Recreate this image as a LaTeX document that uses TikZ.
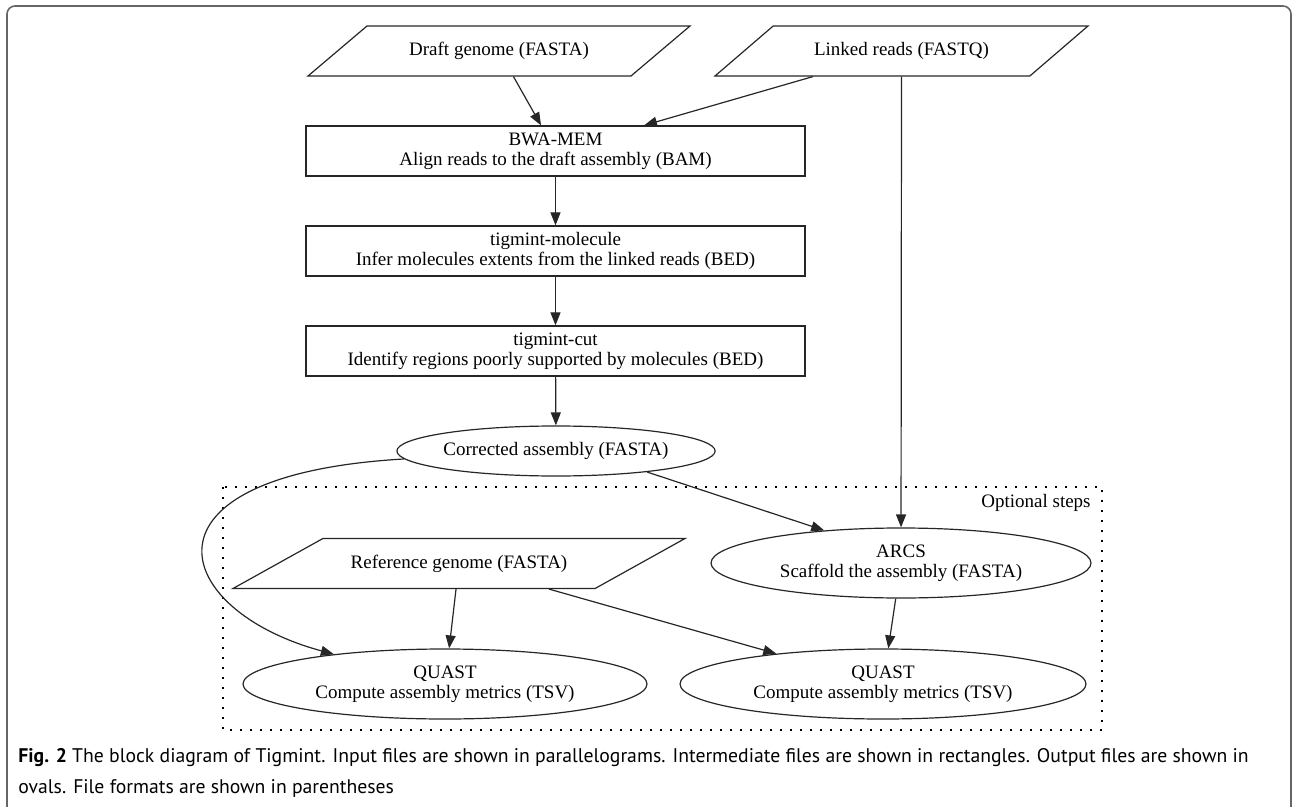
\documentclass[tikz,border=0pt]{standalone}
\usepackage{fontspec}
\setmainfont{Liberation Serif}
\newfontfamily\capfont{PT Sans}
\usepackage{tikz}
\usetikzlibrary{arrows.meta, shapes.geometric, positioning}

\begin{document}
\begin{tikzpicture}[x=0.5pt, y=-0.5pt,
    every node/.style={font=\fontsize{9.5}{10}\selectfont, inner sep=0pt},
    >={Triangle[length=6.5pt, width=5pt]},
    link/.style={->, line width=0.6pt, draw=black!85},
    infile/.style={trapezium, trapezium stretches body, draw=black!85, line width=0.6pt,
        trapezium left angle=16.5, trapezium right angle=163.5, minimum height=25pt},
    toolbox/.style={rectangle, draw=black!85, line width=0.6pt, align=center,
        minimum width=249.5pt, minimum height=25pt},
    outfile/.style={ellipse, draw=black!85, line width=0.6pt, align=center}]
    \useasboundingbox (0,0) rectangle (1294,807);

    % Frame
    \draw[gray!80!black, line width=0.8pt, rounded corners=4pt]
        (7,807) -- (7,6) -- (1291,6) -- (1291,807);

    % Input files
    \node[infile, minimum width=191pt] (draft) at (499,51) {Draft genome (FASTA)};
    \node[infile, minimum width=186.5pt] (linked) at (901.5,51) {Linked reads (FASTQ)};

    % Pipeline
    \node[toolbox] (bwa) at (555.5,151) {BWA-MEM\\Align reads to the draft assembly (BAM)};
    \node[toolbox] (molecule) at (555.5,251) {tigmint-molecule\\Infer molecules extents from the linked reads (BED)};
    \node[toolbox] (cut) at (555.5,351) {tigmint-cut\\Identify regions poorly supported by molecules (BED)};
    \node[outfile, minimum width=159pt, minimum height=25pt] (corrected) at (556,451) {Corrected assembly (FASTA)};

    % Optional steps
    \draw[line width=0.6pt, dash pattern=on 0.8pt off 4.2pt] (223,487) rectangle (1102,730);
    \node[anchor=east] (optional) at (1091,503) {Optional steps};
    \node[infile, trapezium left angle=11, trapezium right angle=169, minimum width=226pt]
        (ref) at (459,563.5) {Reference genome (FASTA)};
    \node[outfile, minimum width=190pt, minimum height=35pt] (arcs) at (901,563) {ARCS\\Scaffold the assembly (FASTA)};
    \node[outfile, minimum width=202pt, minimum height=35pt] (quast1) at (445,684) {QUAST\\Compute assembly metrics (TSV)};
    \node[outfile, minimum width=203pt, minimum height=35pt] (quast2) at (883,684) {QUAST\\Compute assembly metrics (TSV)};

    % Edges
    \draw[link] (draft) -- (bwa);
    \draw[link] (linked) -- (bwa);
    \draw[link] (bwa) -- (molecule);
    \draw[link] (molecule) -- (cut);
    \draw[link] (cut) -- (corrected);
    \draw[link] (linked) -- (arcs);
    \draw[link] (corrected.-13) -- (arcs.157);
    \draw[link] (corrected.183) .. controls +(-278,16) and +(-163,-44) .. (quast1.165);
    \draw[link] (ref) -- (quast1);
    \draw[link] (ref) -- (quast2);
    \draw[link] (arcs) -- (quast2);

    % Caption
    \node[anchor=west, font=\capfont\fontsize{9.85}{11}\selectfont] (cap1) at (18,758)
        {\textbf{Fig. 2} The block diagram of Tigmint. Input files are shown in parallelograms. Intermediate files are shown in rectangles. Output files are shown in};
    \node[anchor=west, font=\capfont\fontsize{9.85}{11}\selectfont] (cap2) at (18,788)
        {ovals. File formats are shown in parentheses};
\end{tikzpicture}
\end{document}
